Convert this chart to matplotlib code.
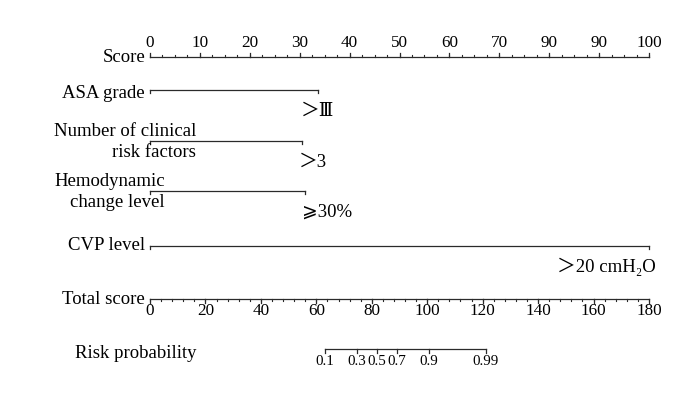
import numpy as np
import matplotlib
matplotlib.use("Agg")
import matplotlib.pyplot as plt

plt.rcParams['font.family'] = ['Liberation Serif', 'DejaVu Serif', 'DejaVu Sans', 'Noto Sans CJK SC']

# points scale
score_ticks = [0, 10, 20, 30, 40, 50, 60, 70, 80, 90, 100]
score_labels = ['0', '10', '20', '30', '40', '50', '60', '70', '90', '90', '100']

# predictors: points at the high level (low level sits at 0)
var_names = ['ASA grade', 'Number of clinical\nrisk factors', 'Hemodynamic\nchange level', 'CVP level']
var_points = [33.7, 30.5, 31.0, 100.0]
var_levels = ['＞Ⅲ', '＞3', '⩾30%', '＞20 cmH₂O']

# total points scale
total_ticks = [0, 20, 40, 60, 80, 100, 120, 140, 160, 180]
total_max = 180

# risk probability, total score where each tick sits
risk_labels = ['0.1', '0.3', '0.5', '0.7', '0.9', '0.99']
risk_total = [63.1, 74.6, 81.9, 89.1, 100.5, 121.2]

px = 100 / 499.0          # score units per pixel
x0 = 150                  # pixel where score 0 sits
line_c = '#2a2a2a'

fig = plt.figure(figsize=(6.83, 3.96), dpi=100)
ax = fig.add_axes([0, 0, 1, 1])
ax.set_xlim(-x0 * px, (683 - x0) * px)
ax.set_ylim(396, 0)
ax.axis('off')

fs = 13.5
tfs = 12.3


def scale(y, ticks, minor, conv, up, labels=None):
    ax.plot([conv(ticks[0]), conv(ticks[-1])], [y, y], color=line_c, lw=0.9)
    d = -1 if up else 1
    for m in minor:
        ax.plot([conv(m), conv(m)], [y, y + d * 2.2], color=line_c, lw=0.8)
    for i, t in enumerate(ticks):
        ax.plot([conv(t), conv(t)], [y, y + d * 4], color=line_c, lw=0.9)
        lab = labels[i] if labels else str(t)
        if up:
            ax.text(conv(t), y - 6, lab, ha='center', va='bottom', fontsize=tfs)
        else:
            ax.text(conv(t), y + 4, lab, ha='center', va='top', fontsize=tfs)


# Score axis
ys = 57
scale(ys, score_ticks, np.arange(0, 100.1, 2.5), lambda v: v, True, score_labels)
ax.text(-5 * px, ys, 'Score', ha='right', va='center', fontsize=fs)

# predictor rows
row_y = [90, 141, 191, 246]
lab_pos = [(-5, 94, 'right'), (196 - x0, 142, 'right'), (165 - x0, 192, 'right'), (-5, 246, 'right')]
lvl_dx = [(-17, 'left'), (-3, 'left'), (-3, 'left'), (7, 'right')]
for i, name in enumerate(var_names):
    y = row_y[i]
    p = var_points[i]
    ax.plot([0, p], [y, y], color=line_c, lw=0.9)
    ax.plot([0, 0], [y, y + 3], color=line_c, lw=0.9)
    ax.plot([p, p], [y, y + 3], color=line_c, lw=0.9)
    lx, ly, ha = lab_pos[i]
    ax.text(lx * px, ly, name, ha=ha, va='center', fontsize=fs, linespacing=1.35)
    dx, lha = lvl_dx[i]
    ax.text(p + dx * px, y + 21, var_levels[i], ha=lha, va='center', fontsize=fs)

# Total score
yt = 299
tconv = lambda v: v * 100.0 / total_max
scale(yt, total_ticks, np.arange(0, 180.1, 4), tconv, False)
ax.text(-5 * px, yt, 'Total score', ha='right', va='center', fontsize=fs)

# Risk probability
yr = 349
ax.plot([tconv(risk_total[0]), tconv(risk_total[-1])], [yr, yr], color=line_c, lw=0.9)
for t, lab in zip(risk_total, risk_labels):
    ax.plot([tconv(t), tconv(t)], [yr, yr + 4], color=line_c, lw=0.9)
    ax.text(tconv(t), yr + 6, lab, ha='center', va='top', fontsize=10.8)
ax.text((196 - x0) * px, yr + 4, 'Risk probability', ha='right', va='center', fontsize=fs)

fig.savefig('out.png', dpi=100, facecolor='white')
